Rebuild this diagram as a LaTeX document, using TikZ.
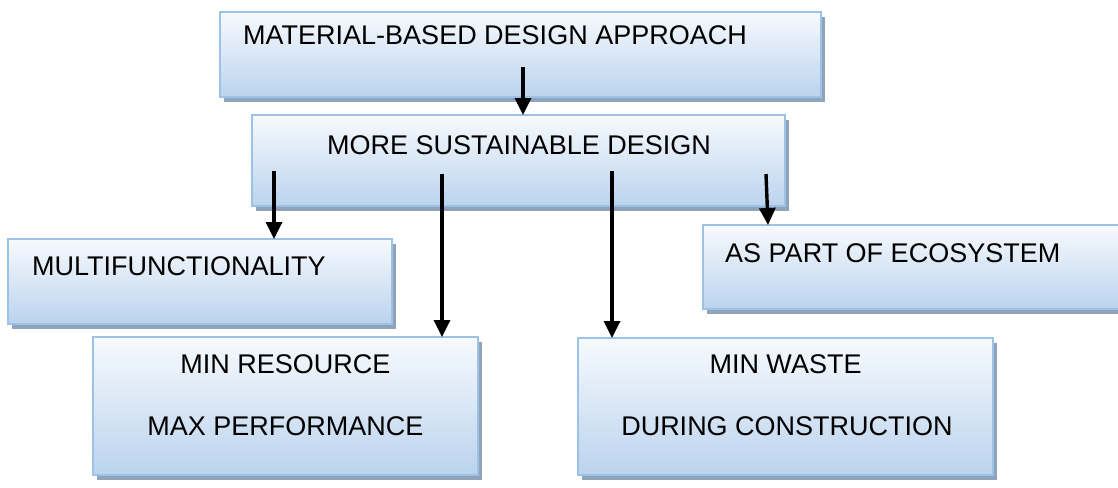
\documentclass[tikz,border=0pt]{standalone}
\usepackage{fontspec}
\setmainfont{Liberation Sans}
\usetikzlibrary{shadows,arrows.meta,calc}
\definecolor{boxtop}{HTML}{F7FAFD}
\definecolor{boxbot}{HTML}{BBD3EE}
\definecolor{boxline}{HTML}{9CC2E8}
\definecolor{shadowc}{HTML}{8FA3BB}
\tikzset{
  box/.style={draw=boxline, line width=2pt, top color=boxtop, bottom color=boxbot,
    anchor=north west, inner sep=0pt, outer sep=0pt,
    drop shadow={shadow xshift=4pt, shadow yshift=-5pt, fill=shadowc, opacity=1}},
  txt/.style={inner sep=0pt, font=\fontsize{27}{32}\selectfont},
  arr/.style={line width=3.4pt, -{Triangle[width=16pt,length=17pt]}}
}
\begin{document}
\begin{tikzpicture}[x=1pt,y=-1pt]
\useasboundingbox (0,0) rectangle (1118,487);
% boxes
\node[box, minimum width=601pt, minimum height=85pt] (b1) at (220,12) {};
\node[box, minimum width=533pt, minimum height=91pt] (b2) at (252,115) {};
\node[box, minimum width=384pt, minimum height=85pt] (multi) at (8,239) {};
\node[box, minimum width=425pt, minimum height=84pt] (eco) at (703,225) {};
\node[box, minimum width=385pt, minimum height=138pt] (res) at (93,337) {};
\node[box, minimum width=415pt, minimum height=137pt] (waste) at (578,338) {};
% texts
\node[txt, anchor=base west] (t1) at ($(b1.north west)+(23,33)$) {MATERIAL-BASED DESIGN APPROACH};
\node[txt, anchor=base] (t2) at ($(b2.north)+(0.5,39)$) {MORE SUSTAINABLE DESIGN};
\node[txt, anchor=base west] (tm) at ($(multi.north west)+(24,36)$) {MULTIFUNCTIONALITY};
\node[txt, anchor=base west] (te) at ($(eco.north west)+(22,37)$) {AS PART OF ECOSYSTEM};
\node[txt, anchor=base] (tr1) at ($(res.north)+(0,36)$) {MIN RESOURCE};
\node[txt, anchor=base] (tr2) at ($(res.north)+(0,98)$) {MAX PERFORMANCE};
\node[txt, anchor=base] (tw1) at ($(waste.north)+(0,35)$) {MIN WASTE};
\node[txt, anchor=base] (tw2) at ($(waste.north)+(1.5,97)$) {DURING CONSTRUCTION};
% connectors
\coordinate (s1) at ($(b1.north west)+(303,55)$);
\draw[arr] (s1) -- (s1 |- b2.north);
\coordinate (s2) at ($(b2.north west)+(22,56)$);
\draw[arr] (s2) -- (s2 |- multi.north);
\coordinate (s3) at ($(b2.north west)+(190,59)$);
\draw[arr] (s3) -- (s3 |- res.north);
\coordinate (s4) at ($(b2.north west)+(360,56)$);
\draw[arr] (s4) -- (s4 |- waste.north);
\coordinate (s5) at ($(b2.north west)+(514,59)$);
\draw[arr] (s5) -- ($(eco.north west)+(65,0)$);
\end{tikzpicture}
\end{document}
